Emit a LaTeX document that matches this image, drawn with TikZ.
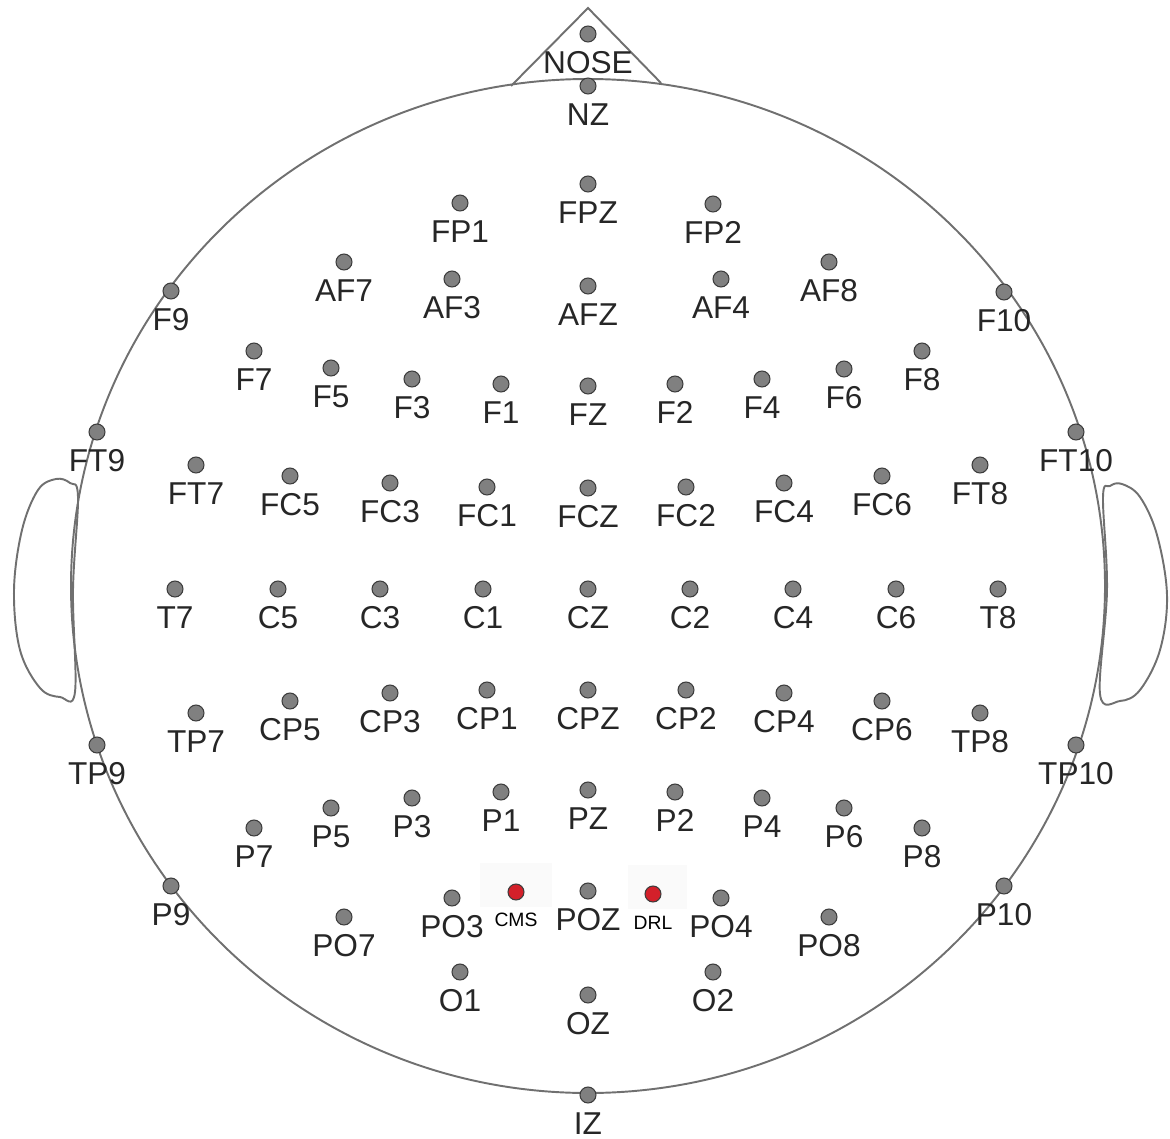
\documentclass[tikz,border=0pt]{standalone}
\usepackage{fontspec}
\setmainfont{Liberation Sans}
\usepackage{tikz}
\usetikzlibrary{positioning}
\definecolor{headgray}{HTML}{707070}
\definecolor{dotgray}{HTML}{808080}
\definecolor{dotrim}{HTML}{3C3C3C}
\definecolor{refred}{HTML}{D3202A}

\begin{document}
\begin{tikzpicture}[x=0.02cm, y=-0.02cm,
  outline/.style={draw=headgray, line width=1.1pt},
  elec/.style={circle, draw=dotrim, fill=dotgray, line width=0.6pt,
               minimum size=0.32cm, inner sep=0pt},
  refelec/.style={elec, fill=refred},
  elabel/.style={font=\fontsize{18}{18}\selectfont, inner sep=0pt, text=black!85},
  reflabel/.style={font=\fontsize{11}{11}\selectfont, inner sep=0pt},
  refbox/.style={fill=black!2}
]
  \useasboundingbox (0,0) rectangle (1170,1139);

  % head, nose and ears
  \draw[outline] (588,586) ellipse [x radius=517, y radius=507];
  \draw[outline] (511,86) -- (588,8) -- (661,83);
  \draw[outline] plot[smooth cycle, tension=0.6] coordinates
    {(78,497) (70,483) (56,479) (38,490) (22,530) (14,590) (20,650) (40,688) (60,697) (75,692) (73,590)};
  \draw[outline] plot[smooth cycle, tension=0.6] coordinates
    {(1103,497) (1110,486) (1122,484) (1140,497) (1157,535) (1167,595) (1160,650) (1140,690) (1120,701) (1100,694) (1107,590)};

  % faint boxes behind the reference electrodes
  \fill[refbox] (480,863) rectangle (552,907);
  \fill[refbox] (628,865) rectangle (687,909);

  % electrodes
  \foreach \n/\x/\y in {
      NOSE/588/34, NZ/588/86,
      FP1/460/203, FPZ/588/184, FP2/713/204,
      AF7/344/262, AF3/452/279, AFZ/588/286, AF4/721/279, AF8/829/262,
      F9/171/291, F10/1004/292,
      F7/254/351, F5/331/368, F3/412/379, F1/501/384, FZ/588/386,
      F2/675/384, F4/762/379, F6/844/369, F8/922/351,
      FT9/97/432, FT10/1076/432,
      FT7/196/465, FC5/290/476, FC3/390/483, FC1/487/487, FCZ/588/488,
      FC2/686/487, FC4/784/483, FC6/882/476, FT8/980/465,
      T7/175/589, C5/278/589, C3/380/589, C1/483/589, CZ/588/589,
      C2/690/589, C4/793/589, C6/896/589, T8/998/589,
      TP9/97/745, TP10/1076/745,
      TP7/196/713, CP5/290/701, CP3/390/693, CP1/487/690, CPZ/588/690,
      CP2/686/690, CP4/784/693, CP6/882/701, TP8/980/713,
      P7/254/828, P5/331/808, P3/412/798, P1/501/792, PZ/588/790,
      P2/675/792, P4/762/798, P6/844/808, P8/922/828,
      P9/171/886, P10/1004/886,
      PO7/344/917, PO3/452/898, POZ/588/891, PO4/721/898, PO8/829/917,
      O1/460/972, OZ/588/995, O2/713/972,
      IZ/588/1095} {
    \node[elec] (\n) at (\x,\y) {};
    \node[elabel, below=0.17cm of \n] (\n-t) {\n};
  }

  % reference electrodes
  \node[refelec] (CMS) at (516,892) {};
  \node[reflabel, below=0.24cm of CMS] (CMS-t) {CMS};
  \node[refelec] (DRL) at (653,894) {};
  \node[reflabel, below=0.26cm of DRL] (DRL-t) {DRL};
\end{tikzpicture}
\end{document}
